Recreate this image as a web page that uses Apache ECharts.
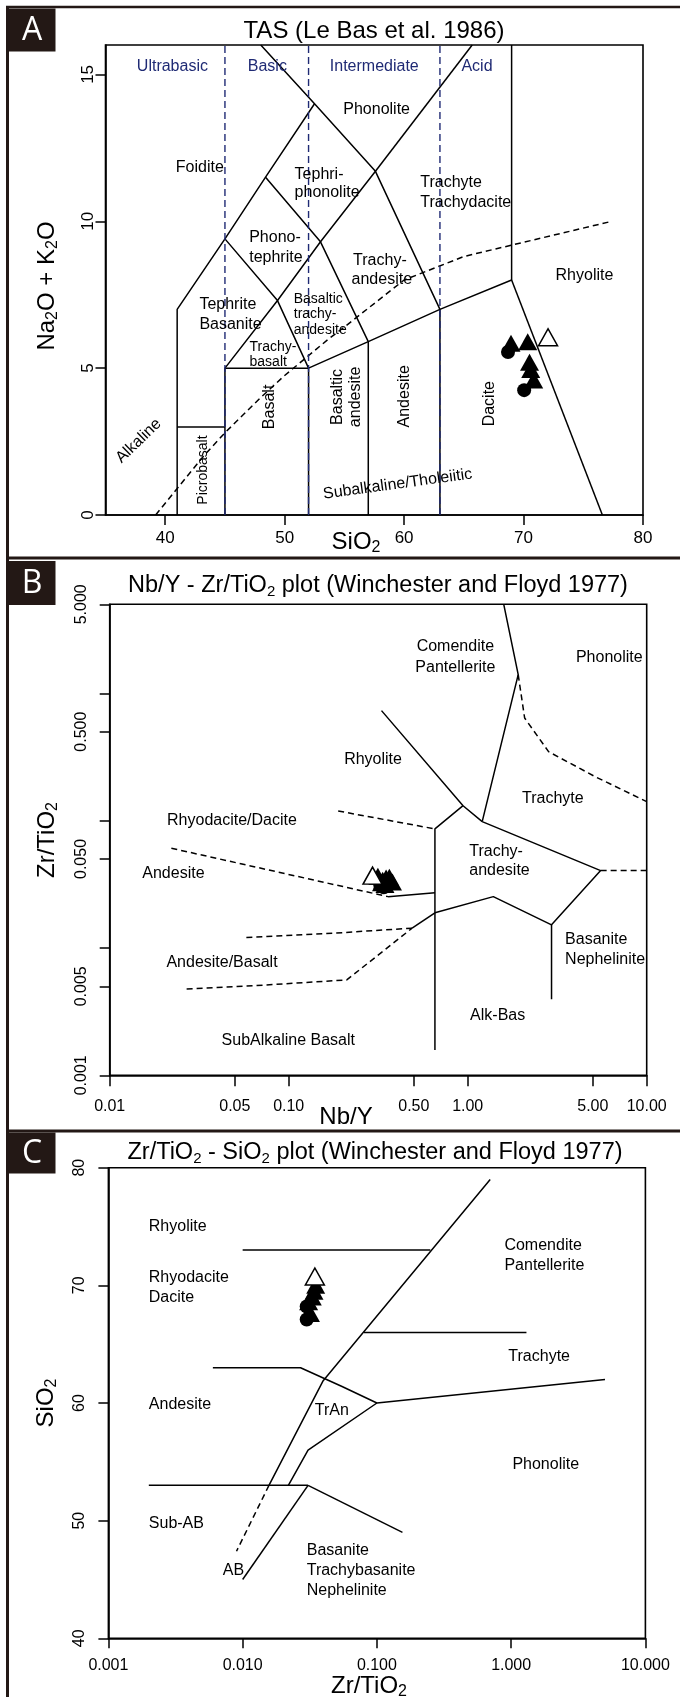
<!DOCTYPE html>
<html><head><meta charset="utf-8">
<script src="https://cdn.jsdelivr.net/npm/echarts@6/dist/echarts.min.js"></script>
<style>html,body{margin:0;padding:0;background:#fff}#c{width:680px;height:1697px}</style>
</head><body><div id="c"></div><script>
// ================= DATA =================
// Panel A: TAS (SiO2 vs Na2O+K2O)
const tasXTicks = [40, 50, 60, 70, 80];
const tasYTicks = [0, 5, 10, 15];
const tasSolid = [
  [[41,0],[41,7],[45,9.4],[48.4,11.5],[52.5,14]],
  [[48,16],[52.5,14],[57.6,11.7],[63,7]],
  [[57.6,11.7],[65.7,16]],
  [[41,3],[45,3]],
  [[45,0],[45,5],[49.4,7.3],[53,9.3],[57.6,11.7]],
  [[45,9.4],[49.4,7.3],[52,5]],
  [[48.4,11.5],[53,9.3],[57,5.9]],
  [[45,5],[52,5],[57,5.9],[63,7],[69,8],[69,16]],
  [[52,0],[52,5]],
  [[57,0],[57,5.9]],
  [[63,0],[63,7]],
  [[69,8],[76.6,0]]
];
const tasClassLines = [[[45,0],[45,16]], [[52,0],[52,16]], [[63,0],[63,16]]];
const tasAlkalineLine = [[39.2,0],[40,0.4],[43.2,2],[45,2.8],[48,4],[50,4.75],[53.7,6],[55,6.4],[60,8],[65,8.8],[77.4,10]];
const tasCircles = [[68.7,5.55],[70.05,4.25]];
const tasTriangles = [[68.95,5.85],[70.35,5.9],[70.5,5.2],[70.6,4.95],[70.85,4.6]];
const tasOpen = [[72.05,6.05]];
const tasClassLabels = [['Ultrabasic',40.6,15.28],['Basic',48.55,15.28],['Intermediate',57.5,15.28],['Acid',66.1,15.28]];
const tasLabelsCenter = [['Phonolite',57.7,13.8],['Foidite',42.9,11.83],['Rhyolite',75.1,8.15]];
const tasLabelsLeft = [['Tephri-',50.83,11.6],['phonolite',50.83,10.98],['Trachyte',61.35,11.32],['Trachydacite',61.35,10.64],
  ['Phono-',47.03,9.44],['tephrite',47.03,8.76],['Trachy-',55.73,8.66],['andesite',55.6,8.0],['Tephrite',42.86,7.16],['Basanite',42.86,6.49]];
const tasLabelsSmall = [['Basaltic',50.76,7.36],['trachy-',50.76,6.85],['andesite',50.76,6.28],['Trachy-',47.06,5.71],['basalt',47.06,5.2]];
const tasLabelsVert = [['Basalt',48.73,3.68],['Basaltic',54.45,4.02],['andesite',55.9,4.02],['Andesite',60.08,4.04],['Dacite',67.15,3.79]];
const tasLabelsVertSmall = [['Picrobasalt',43.2,1.53]];
const tasLabelsAlk = [['Alkaline',37.78,2.52]];
const tasLabelsSub = [['Subalkaline/Tholeiitic',59.46,1.05]];

// Panel B: Nb/Y vs Zr/TiO2 (log-log)
const nbyXTicks = [0.01, 0.05, 0.1, 0.5, 1, 5, 10];
const nbyYTicks = [0.001, 0.005, 0.01, 0.05, 0.1, 0.5, 1, 5];
const nbyYLabels = [0.001, 0.005, 0.05, 0.5, 5];
const nbySolid = [
  [[1.59,5],[1.915,1.40],[1.205,0.0982]],
  [[0.330,0.731],[0.942,0.131],[1.205,0.0982]],
  [[0.942,0.131],[0.656,0.0861],[0.656,0.00158]],
  [[1.205,0.0982],[5.53,0.0405],[2.94,0.0152],[1.39,0.0253],[0.656,0.0189]],
  [[2.94,0.0152],[2.94,0.00395]],
  [[0.359,0.0253],[0.656,0.0272]],
  [[0.489,0.0143],[0.656,0.0189]]
];
const nbyDashed = [
  [[1.915,1.40],[2.08,0.64],[2.83,0.348],[5.2,0.22],[10,0.141]],
  [[0.189,0.119],[0.656,0.0861]],
  [[0.0221,0.0607],[0.359,0.0253]],
  [[0.058,0.0121],[0.2,0.0132],[0.489,0.0143]],
  [[0.0269,0.00476],[0.0657,0.00506],[0.211,0.00561],[0.489,0.0143]],
  [[5.53,0.0405],[10,0.0405]]
];
const nbyCircles = [[0.325,0.031],[0.34,0.030]];
const nbyTriangles = [[0.315,0.0365],[0.335,0.034],[0.35,0.0355],[0.365,0.036],[0.38,0.033],[0.345,0.0315],[0.33,0.0325]];
const nbyOpen = [[0.294,0.037]];
const nbyLabelsCenter = [['Comendite',0.853,2.33],['Pantellerite',0.853,1.59],['Phonolite',6.18,1.91],['Rhyolite',0.296,0.30],
  ['Trachyte',2.99,0.148],['Rhyodacite/Dacite',0.0482,0.0995],['Andesite',0.0227,0.0386],['Andesite/Basalt',0.0424,0.00767],
  ['Alk-Bas',1.47,0.00294],['SubAlkaline Basalt',0.0995,0.00189]];
const nbyLabelsLeft = [['Trachy-',1.02,0.0571],['andesite',1.02,0.0403],['Basanite',3.5,0.01156],['Nephelinite',3.5,0.00815]];

// Panel C: Zr/TiO2 vs SiO2 (log x)
const zrXTicks = [0.001, 0.01, 0.1, 1, 10];
const zrYTicks = [40, 50, 60, 70, 80];
const zrSolid = [
  [[0.698,79],[0.0398,61.9],[0.0157,53]],
  [[0.01,73],[0.25,73]],
  [[0.08,66],[1.3,66]],
  [[0.006,63],[0.027,63],[0.055,61.4],[0.1,60],[5,62]],
  [[0.1,60],[0.0307,56],[0.0219,53]],
  [[0.002,53],[0.0307,53]],
  [[0.0307,53],[0.155,49]],
  [[0.0307,53],[0.01,45]]
];
const zrDashed = [[[0.0157,53],[0.009,47.4]]];
const zrCircles = [[0.030,68.2],[0.030,67.1]];
const zrTriangles = [[0.035,70.0],[0.034,69.5],[0.033,69.0],[0.031,68.6],[0.032,67.6]];
const zrOpen = [[0.0345,70.75]];
const zrLabelsLeft = [['Rhyolite',0.002,75],['Rhyodacite',0.002,70.7],['Dacite',0.002,68.96],['Andesite',0.002,59.84],['Sub-AB',0.002,49.78],
  ['Comendite',0.891,73.4],['Pantellerite',0.891,71.7],['Trachyte',0.953,63.95],
  ['Basanite',0.03,47.45],['Trachybasanite',0.03,45.75],['Nephelinite',0.03,44.05]];
const zrLabelsCenter = [['TrAn',0.0461,59.35],['Phonolite',1.81,54.8],['AB',0.00853,45.75]];

// ================= BUILD =================
const FONT = '"Liberation Sans", Arial, Helvetica, sans-serif';
const INK = '#000';
const FRAME = '#231815';
const BLUE = '#1f2a74';
const id = v => v;
const lg = v => Math.log10(v);

function lineSeries(lines, gi, fx, fy, style, z) {
  return lines.map(pts => ({
    type: 'line', xAxisIndex: gi, yAxisIndex: gi, symbol: 'none', silent: true, animation: false,
    data: pts.map(p => [fx(p[0]), fy(p[1])]), lineStyle: style, z: z || 2
  }));
}
function labelSeries(items, gi, fx, fy, lab) {
  return {
    type: 'scatter', xAxisIndex: gi, yAxisIndex: gi, symbolSize: 0, silent: true, animation: false, z: 6,
    itemStyle: { opacity: 1 },
    data: items.map(it => ({ name: it[0], value: [fx(it[1]), fy(it[2])] })),
    label: Object.assign({ show: true, position: 'inside', formatter: '{b}', color: INK, opacity: 1, fontFamily: FONT, fontSize: 16 }, lab)
  };
}
function pointSeries(gi, fx, fy, circles, tris, open) {
  const mk = (pts) => pts.map(p => [fx(p[0]), fy(p[1])]);
  return [
    { type: 'scatter', xAxisIndex: gi, yAxisIndex: gi, symbol: 'circle', symbolSize: 14, animation: false, z: 10,
      itemStyle: { color: INK, opacity: 1 }, data: mk(circles) },
    { type: 'scatter', xAxisIndex: gi, yAxisIndex: gi, symbol: 'triangle', symbolSize: [19, 17], animation: false, z: 11,
      itemStyle: { color: INK, opacity: 1 }, data: mk(tris) },
    { type: 'scatter', xAxisIndex: gi, yAxisIndex: gi, symbol: 'triangle', symbolSize: [19, 17], animation: false, z: 12,
      itemStyle: { color: '#fff', borderColor: INK, borderWidth: 1.5, opacity: 1 }, data: mk(open) }
  ];
}
function makeAxis(gi, min, max, ticks, labels, fmt, o) {
  return {
    type: 'value', gridIndex: gi, min: min, max: max,
    axisLine: { show: true, onZero: false, lineStyle: { color: INK, width: 1.6 } },
    splitLine: { show: false },
    axisTick: { show: true, inside: false, length: o.tick, customValues: ticks, lineStyle: { color: INK, width: 1.5 } },
    axisLabel: { show: true, customValues: labels, formatter: fmt, color: INK, fontFamily: FONT, fontSize: o.fs,
      margin: o.margin, rotate: o.rotate || 0, hideOverlap: false },
    animation: false
  };
}
const f = d => (v => Math.pow(10, v).toFixed(d));

const sol = { color: INK, width: 1.5, type: 'solid' };
const dsh = { color: INK, width: 1.5, type: [6, 4] };
const bdsh = { color: BLUE, width: 1.4, type: [7, 4] };

const series = [].concat(
  // Panel A
  lineSeries(tasSolid, 0, id, id, sol),
  lineSeries(tasClassLines, 0, id, id, bdsh, 3),
  lineSeries([tasAlkalineLine], 0, id, id, dsh),
  [labelSeries(tasClassLabels, 0, id, id, { color: BLUE })],
  [labelSeries(tasLabelsCenter, 0, id, id, {})],
  [labelSeries(tasLabelsLeft, 0, id, id, { align: 'left' })],
  [labelSeries(tasLabelsSmall, 0, id, id, { align: 'left', fontSize: 14 })],
  [labelSeries(tasLabelsVert, 0, id, id, { rotate: 90 })],
  [labelSeries(tasLabelsVertSmall, 0, id, id, { rotate: 90, fontSize: 14 })],
  [labelSeries(tasLabelsAlk, 0, id, id, { rotate: 44 })],
  [labelSeries(tasLabelsSub, 0, id, id, { rotate: 7.8 })],
  pointSeries(0, id, id, tasCircles, tasTriangles, tasOpen),
  // Panel B
  lineSeries(nbySolid, 1, lg, lg, sol),
  lineSeries(nbyDashed, 1, lg, lg, dsh),
  [labelSeries(nbyLabelsCenter, 1, lg, lg, {})],
  [labelSeries(nbyLabelsLeft, 1, lg, lg, { align: 'left' })],
  pointSeries(1, lg, lg, nbyCircles, nbyTriangles, nbyOpen),
  // Panel C
  lineSeries(zrSolid, 2, lg, id, sol),
  lineSeries(zrDashed, 2, lg, id, dsh),
  [labelSeries(zrLabelsLeft, 2, lg, id, { align: 'left' })],
  [labelSeries(zrLabelsCenter, 2, lg, id, {})],
  pointSeries(2, lg, id, zrCircles, zrTriangles, zrOpen)
);

const gridBase = { show: true, borderColor: INK, borderWidth: 1.6, backgroundColor: 'transparent', outerBoundsMode: 'none', containLabel: false };

// rich text helpers for subscripts
function rich(size, sub) {
  return {
    m: { fontSize: size, lineHeight: size + 4, fontFamily: FONT, fill: INK },
    s: { fontSize: sub, lineHeight: sub, fontFamily: FONT, fill: INK, verticalAlign: 'bottom' }
  };
}
function gText(x, y, text, size, sub, rot) {
  return { type: 'text', x: x, y: y, rotation: rot || 0, silent: true, z: 100,
    style: { text: text, rich: rich(size, sub), align: 'center', verticalAlign: 'middle', fill: INK, font: size + 'px ' + FONT } };
}
function box(y, h, letter) {
  return [
    { type: 'rect', shape: { x: 8.5, y: y, width: 47, height: h }, style: { fill: FRAME }, silent: true, z: 100 },
    { type: 'text', x: 32, y: y + h / 2 + 1, silent: true, z: 101,
      style: { text: letter, fill: '#fff', font: '32px "Open Sans", "Noto Sans", sans-serif', align: 'center', verticalAlign: 'middle' } }
  ];
}
function hline(y, w) { return { type: 'line', shape: { x1: 6, y1: y, x2: 680, y2: y }, style: { stroke: FRAME, lineWidth: w }, silent: true, z: 99 }; }

const graphic = [].concat(
  [hline(7, 2.5), hline(558, 3), hline(1131, 3),
   { type: 'line', shape: { x1: 7.5, y1: 6, x2: 7.5, y2: 1697 }, style: { stroke: FRAME, lineWidth: 3 }, silent: true, z: 99 }],
  box(8.5, 43, 'A'), box(561, 44, 'B'), box(1132.5, 41, 'C'),
  [
    gText(374, 31, '{m|TAS (Le Bas et al. 1986)}', 24, 15),
    gText(378, 586, '{m|Nb/Y - Zr/TiO}{s|2}{m| plot (Winchester and Floyd 1977)}', 23.5, 15),
    gText(375, 1153, '{m|Zr/TiO}{s|2}{m| - SiO}{s|2}{m| plot (Winchester and Floyd 1977)}', 23.5, 15),
    gText(356, 542, '{m|SiO}{s|2}', 24, 16),
    gText(346, 1117, '{m|Nb/Y}', 24, 16),
    gText(369, 1686, '{m|Zr/TiO}{s|2}', 24, 16),
    gText(47, 286, '{m|Na}{s|2}{m|O + K}{s|2}{m|O}', 24, 16, Math.PI / 2),
    gText(47, 840, '{m|Zr/TiO}{s|2}', 24, 16, Math.PI / 2),
    gText(46, 1403, '{m|SiO}{s|2}', 24, 16, Math.PI / 2)
  ]
);

const option = {
  animation: false,
  backgroundColor: '#fff',
  grid: [
    Object.assign({ left: 105.5, top: 45, width: 537.5, height: 470 }, gridBase),
    Object.assign({ left: 109.7, top: 604.3, width: 537, height: 471 }, gridBase),
    Object.assign({ left: 108.4, top: 1167.7, width: 537, height: 470.6 }, gridBase)
  ],
  xAxis: [
    makeAxis(0, 35, 80, tasXTicks, tasXTicks, v => String(v), { tick: 10, fs: 17, margin: 15 }),
    makeAxis(1, -2, 1, nbyXTicks.map(lg), nbyXTicks.map(lg), f(2), { tick: 11, fs: 16, margin: 23 }),
    makeAxis(2, -3, 1, zrXTicks.map(lg), zrXTicks.map(lg), f(3), { tick: 10, fs: 16, margin: 19 })
  ],
  yAxis: [
    makeAxis(0, 0, 16, tasYTicks, tasYTicks, v => String(v), { tick: 10, fs: 17, margin: 9, rotate: 90 }),
    makeAxis(1, -3, Math.log10(5), nbyYTicks.map(lg), nbyYLabels.map(lg), f(3), { tick: 10, fs: 16, margin: 20, rotate: 90 }),
    makeAxis(2, 40, 80, zrYTicks, zrYTicks, v => String(v), { tick: 10, fs: 16, margin: 21, rotate: 90 })
  ],
  series: series,
  graphic: graphic
};

const chart = echarts.init(document.getElementById('c'), null, { renderer: 'canvas' });
chart.setOption(option);
</script></body></html>
